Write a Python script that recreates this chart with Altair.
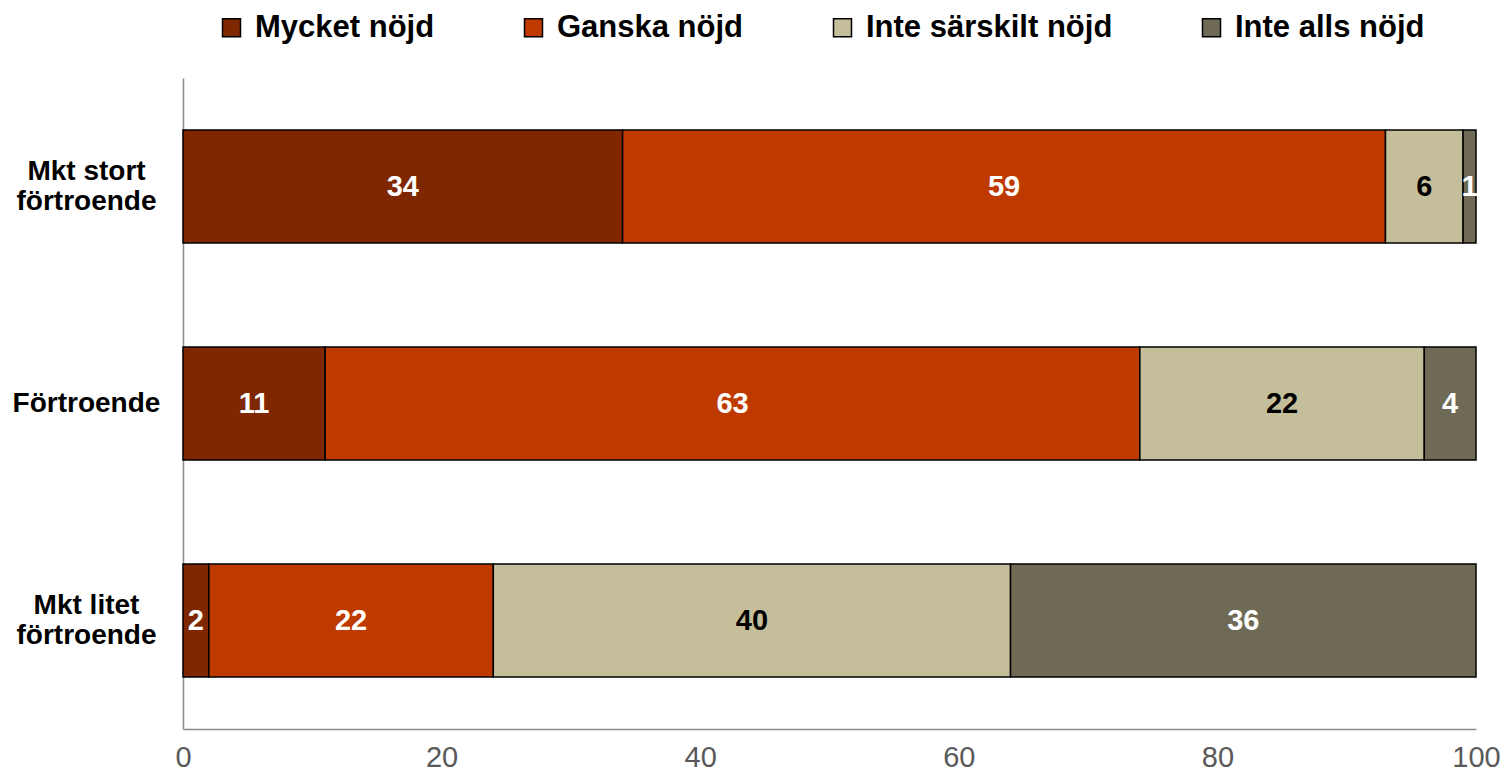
import altair as alt
import pandas as pd

rows = ["Mkt stort förtroende", "Förtroende", "Mkt litet förtroende"]
series = ["Mycket nöjd", "Ganska nöjd", "Inte särskilt nöjd", "Inte alls nöjd"]
mycket = [34, 11, 2]
ganska = [59, 63, 22]
inte_sarskilt = [6, 22, 40]
inte_alls = [1, 4, 36]
colors = ["#7F2700", "#BF3A00", "#C5BE9A", "#6E6A55"]
x_ticks = [0, 20, 40, 60, 80, 100]

records = []
for s_i, (s, vals) in enumerate(zip(series, [mycket, ganska, inte_sarskilt, inte_alls])):
    for r, v in zip(rows, vals):
        records.append({"grupp": r, "svar": s, "ordning": s_i, "andel": v})
df = pd.DataFrame(records)

FONT = "Liberation Sans"

base = alt.Chart(df).transform_stack(
    stack="andel",
    groupby=["grupp"],
    sort=[alt.SortField("ordning", order="ascending")],
    as_=["x0", "x1"],
).transform_calculate(
    mid="(datum.x0 + datum.x1) / 2",
    tcolor="datum.svar == 'Inte särskilt nöjd' ? 'black' : 'white'",
)

xscale = alt.Scale(domain=[0, 100], nice=False, zero=True)

yenc = alt.Y(
    "grupp:N",
    sort=rows,
    title=None,
    scale=alt.Scale(paddingInner=0.48, paddingOuter=0.24),
    axis=alt.Axis(
        ticks=False,
        grid=False,
        domain=True,
        domainColor="#8C8C8C",
        domainWidth=1.5,
        labelFont=FONT,
        labelFontWeight="bold",
        labelFontSize=28,
        labelColor="black",
        labelAlign="center",
        labelBaseline="middle",
        labelPadding=97,
        labelLineHeight=30,
        labelLimit=400,
        labelOffset={"condition": {"test": "indexof(datum.label, ' förtroende') > 0", "value": -15}, "value": 0},
        labelExpr="indexof(datum.label, ' förtroende') > 0 ? [replace(datum.label, ' förtroende', ''), 'förtroende'] : datum.label",
    ),
)

bars = base.mark_bar(stroke="black", strokeWidth=1.5).encode(
    x=alt.X(
        "x0:Q",
        scale=xscale,
        title=None,
        axis=alt.Axis(
            values=x_ticks,
            ticks=False,
            grid=False,
            domainColor="#8C8C8C",
            domainWidth=1.5,
            labelFont=FONT,
            labelFontSize=29,
            labelColor="#595959",
            labelPadding=14,
            labelFlush=False,
            labelOverlap=False,
        ),
    ),
    x2="x1:Q",
    y=yenc,
    color=alt.Color(
        "svar:N",
        sort=series,
        scale=alt.Scale(domain=series, range=colors),
        legend=alt.Legend(
            title=None,
            orient="none",
            legendX=33,
            legendY=-66,
            direction="horizontal",
            symbolType="square",
            symbolSize=324,
            symbolStrokeColor="black",
            symbolStrokeWidth=1.5,
            symbolOpacity=1,
            labelFont=FONT,
            labelFontSize=31,
            labelFontWeight="bold",
            labelColor="black",
            labelOffset=8,
            columnPadding=83,
            labelLimit=400,
            padding=0,
        ),
    ),
)

text = base.mark_text(font=FONT, fontWeight="bold", fontSize=29, baseline="middle", align="center").encode(
    x=alt.X("mid:Q", scale=xscale),
    y=alt.Y("grupp:N", sort=rows),
    text=alt.Text("andel:Q"),
    color=alt.Color("tcolor:N", scale=None),
)

chart = (
    alt.layer(bars, text)
    .properties(
        width=1293,
        height=651,
        background="white",
        padding={"left": 175, "top": 70, "right": 24, "bottom": 44},
        autosize=alt.AutoSizeParams(type="none"),
    )
    .configure_view(stroke=None)
)

chart.save("out.html", embed_options={"renderer": "svg", "actions": False})
